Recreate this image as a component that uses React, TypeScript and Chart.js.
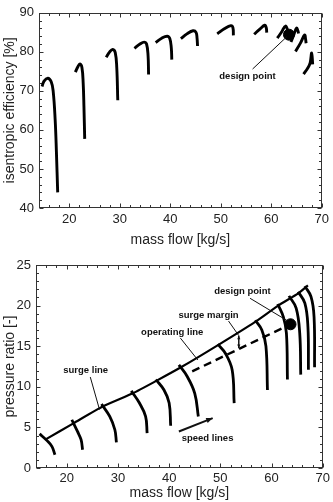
import React, { useEffect, useRef } from "react";
import { Chart, registerables } from "chart.js";
Chart.register(...registerables);

// ---------- data ----------
const massTicks = [20, 30, 40, 50, 60, 70];
const effTicks = [40, 50, 60, 70, 80, 90];
const prTicks = [0, 5, 10, 15, 20, 25];

// isentropic efficiency speed lines: [mass flow, efficiency]
const eff1 = [[14.6, 71.1], [15.0, 72.5], [15.75, 73.25], [16.4, 72.4], [16.8, 70.0], [17.2, 62.6], [17.45, 54.3], [17.7, 44.0]];
const eff2 = [[21.2, 74.8], [21.7, 76.2], [22.1, 76.9], [22.5, 76.0], [22.75, 72.0], [22.9, 66.0], [23.05, 57.7]];
const eff3 = [[27.3, 78.6], [28.0, 80.0], [28.6, 80.6], [29.1, 79.8], [29.4, 76.0], [29.6, 67.6]];
const eff4 = [[32.9, 80.9], [34.0, 82.0], [34.8, 82.5], [35.3, 82.0], [35.6, 79.0], [35.7, 74.2]];
const eff5 = [[37.1, 82.4], [38.3, 83.5], [39.4, 84.0], [39.9, 83.4], [40.2, 81.0], [40.3, 78.0]];
const eff6 = [[42.1, 83.4], [43.3, 84.6], [44.5, 85.4], [45.1, 85.0], [45.3, 83.5], [45.4, 81.5]];
const eff7 = [[49.3, 84.6], [50.7, 85.9], [52.0, 86.7], [52.4, 86.2], [52.5, 84.2]];
const eff8 = [[56.6, 84.5], [57.8, 85.9], [58.7, 86.8], [59.0, 86.2], [59.1, 84.9]];
const eff9 = [[61.2, 83.5], [62.1, 85.2], [62.8, 86.6], [63.3, 85.3], [63.7, 83.5]];
const eff10 = [[63.9, 82.5], [64.5, 84.5], [65.0, 86.1], [65.3, 85.3], [65.4, 84.7]];
const eff11 = [[64.8, 80.1], [65.8, 82.3], [66.6, 84.3], [66.8, 83.2], [66.9, 82.2]];
const eff12 = [[66.4, 74.3], [67.2, 75.8], [67.7, 77.2], [68.0, 79.7], [68.2, 76.8]];
const effCurves = [eff1, eff2, eff3, eff4, eff5, eff6, eff7, eff8, eff9, eff10, eff11, eff12];
const designEff = [[63.5, 84.4]];

// pressure ratio speed lines: [mass flow, pressure ratio]
const pr1 = [[14.7, 4.2], [16.1, 3.4], [17.1, 2.66], [17.7, 1.64]];
const pr2 = [[21.0, 5.94], [22.1, 4.5], [22.8, 3.48], [23.1, 2.25]];
const pr3 = [[26.8, 7.87], [28.4, 6.35], [29.4, 4.71], [29.7, 3.16]];
const pr4 = [[32.6, 9.5], [34.2, 8.0], [35.4, 6.35], [35.7, 4.3]];
const pr5 = [[37.4, 10.9], [39.0, 9.6], [40.0, 8.0], [40.3, 5.2]];
const pr6 = [[41.9, 12.7], [43.5, 11.3], [45.0, 9.2], [45.7, 6.35]];
const pr7 = [[49.5, 15.25], [51.0, 14.1], [52.3, 12.1], [52.7, 8.0]];
const pr8 = [[56.8, 18.2], [58.1, 17.0], [58.9, 15.0], [59.2, 9.6]];
const pr9 = [[61.2, 20.2], [62.3, 18.6], [62.9, 16.6], [63.1, 10.9]];
const pr10 = [[63.4, 21.2], [64.8, 19.7], [65.5, 16.6], [65.7, 11.5]];
const pr11 = [[65.2, 21.7], [66.5, 20.3], [67.1, 17.4], [67.2, 12.1]];
const pr12 = [[66.5, 22.4], [67.7, 21.1], [68.3, 18.6], [68.4, 12.4]];
const prCurves = [pr1, pr2, pr3, pr4, pr5, pr6, pr7, pr8, pr9, pr10, pr11, pr12];
const surgeLine = [[15.8, 3.5], [21.3, 5.5], [27.1, 7.6], [32.9, 9.2], [37.4, 10.7], [42.3, 12.4], [49.7, 15.2], [56.8, 18.0], [61.3, 20.0], [65.2, 21.5], [67.1, 22.5]];
const operatingLine = [[44.5, 11.9], [63.7, 17.7]];
const designPr = [[63.7, 17.7]];

// ---------- helpers ----------
const FONT = "'Liberation Sans', Arial, sans-serif";
const toXY = (arr: number[][]) => arr.map(([x, y]) => ({ x, y }));

const framePlugin = {
  id: "frame",
  beforeDatasetsDraw(chart: any, _a: any, opts: any) {
    const { ctx, chartArea: a, scales } = chart;
    const xs = scales.x, ys = scales.y;
    ctx.save();
    ctx.strokeStyle = "#333";
    ctx.lineWidth = 1;
    const L = Math.round(a.left) + 0.5, R = Math.round(a.right) - 0.5;
    const T = Math.round(a.top) + 0.5, B = Math.round(a.bottom) - 0.5;
    ctx.strokeRect(L, T, R - L, B - T);
    ctx.beginPath();
    const nx = Math.round((opts.xMax - opts.xMin) / opts.xMinor);
    for (let i = 0; i <= nx; i++) {
      const v = opts.xMin + i * opts.xMinor;
      const px = Math.round(xs.getPixelForValue(v)) + 0.5;
      const len = Math.abs(v % opts.xMajor) < 1e-6 ? 4 : 2.5;
      ctx.moveTo(px, B); ctx.lineTo(px, B - len);
      ctx.moveTo(px, T); ctx.lineTo(px, T + len);
    }
    const ny = Math.round((opts.yMax - opts.yMin) / opts.yMinor);
    for (let i = 0; i <= ny; i++) {
      const v = opts.yMin + i * opts.yMinor;
      const py = Math.round(ys.getPixelForValue(v)) + 0.5;
      const len = Math.abs(v % opts.yMajor) < 1e-6 ? 4 : 2.5;
      ctx.moveTo(L, py); ctx.lineTo(L + len, py);
      ctx.moveTo(R, py); ctx.lineTo(R - len, py);
    }
    ctx.stroke();
    ctx.restore();
  },
};

function arrowHead(ctx: CanvasRenderingContext2D, x1: number, y1: number, x2: number, y2: number, size: number) {
  const ang = Math.atan2(y2 - y1, x2 - x1);
  ctx.beginPath();
  ctx.moveTo(x2, y2);
  ctx.lineTo(x2 - size * Math.cos(ang - 0.4), y2 - size * Math.sin(ang - 0.4));
  ctx.lineTo(x2 - size * Math.cos(ang + 0.4), y2 - size * Math.sin(ang + 0.4));
  ctx.closePath();
  ctx.fill();
}

const annotPlugin = {
  id: "annot",
  afterDatasetsDraw(chart: any, _a: any, opts: any) {
    const { ctx, scales } = chart;
    const X = (v: number) => scales.x.getPixelForValue(v);
    const Y = (v: number) => scales.y.getPixelForValue(v);
    ctx.save();
    ctx.fillStyle = "#111";
    ctx.strokeStyle = "#111";
    for (const it of opts.items || []) {
      if (it.type === "text") {
        ctx.font = `bold 9.5px ${FONT}`;
        ctx.textAlign = "center";
        ctx.textBaseline = "middle";
        ctx.fillText(it.text, X(it.x), Y(it.y));
      } else if (it.type === "line" || it.type === "arrow" || it.type === "darrow") {
        const x1 = X(it.x1), y1 = Y(it.y1), x2 = X(it.x2), y2 = Y(it.y2);
        ctx.lineWidth = it.w || 1;
        ctx.beginPath();
        ctx.moveTo(x1, y1);
        ctx.lineTo(x2, y2);
        ctx.stroke();
        if (it.type === "arrow") arrowHead(ctx, x1, y1, x2, y2, it.head || 7);
        if (it.type === "darrow") {
          arrowHead(ctx, x1, y1, x2, y2, it.head || 4);
          arrowHead(ctx, x2, y2, x1, y1, it.head || 4);
        }
      }
    }
    ctx.restore();
  },
};

const lineDs = (arr: number[][], w = 2.8, extra: any = {}) => ({
  data: toXY(arr),
  showLine: true,
  borderColor: "#000",
  backgroundColor: "#000",
  borderWidth: w,
  pointRadius: 0,
  tension: 0.4,
  fill: false,
  ...extra,
});

const xScale = (height: number, pad: number, titlePadBottom: number) => ({
  type: "linear",
  min: 14,
  max: 70,
  afterBuildTicks: (s: any) => { s.ticks = massTicks.map((v) => ({ value: v })); },
  afterFit: (s: any) => { s.height = height; },
  grid: { display: false, drawTicks: false },
  border: { display: false },
  ticks: { color: "#222", font: { family: FONT, size: 13 }, padding: pad, maxRotation: 0 },
  title: { display: true, text: "mass flow [kg/s]", color: "#222", font: { family: FONT, size: 14 }, padding: { top: 0, bottom: titlePadBottom } },
});

const yScale = (min: number, max: number, ticks: number[], width: number, title: string) => ({
  type: "linear",
  min,
  max,
  afterBuildTicks: (s: any) => { s.ticks = ticks.map((v) => ({ value: v })); },
  afterFit: (s: any) => { s.width = width; },
  grid: { display: false, drawTicks: false },
  border: { display: false },
  ticks: { color: "#222", font: { family: FONT, size: 13 }, padding: 5 },
  title: { display: true, text: title, color: "#222", font: { family: FONT, size: 14 }, padding: { top: 2, bottom: 0 } },
});

function useChart(ref: React.RefObject<HTMLCanvasElement>, makeConfig: () => any) {
  useEffect(() => {
    if (!ref.current) return;
    const chart = new Chart(ref.current, makeConfig());
    return () => chart.destroy();
  }, []);
}

export default function App() {
  const topRef = useRef<HTMLCanvasElement>(null);
  const botRef = useRef<HTMLCanvasElement>(null);

  useChart(topRef, () => ({
    type: "scatter",
    data: {
      datasets: [
        ...effCurves.map((c) => lineDs(c, 2.9)),
        { data: toXY(designEff), pointRadius: 5.5, backgroundColor: "#000", borderColor: "#000", showLine: false },
      ],
    },
    options: {
      animation: false,
      responsive: false,
      events: [],
      layout: { padding: { top: 7, right: 8, left: 0, bottom: 0 } },
      plugins: {
        legend: { display: false },
        tooltip: { enabled: false },
        frame: { xMin: 14, xMax: 70, xMinor: 2, xMajor: 10, yMin: 40, yMax: 90, yMinor: 2, yMajor: 10 },
        annot: {
          items: [
            { type: "text", text: "design point", x: 55.3, y: 73.8 },
            { type: "line", x1: 56.3, y1: 75.6, x2: 63.1, y2: 83.9, w: 1 },
          ],
        },
      },
      scales: {
        x: xScale(42, 4, 1),
        y: yScale(40, 90, effTicks, 39, "isentropic efficiency [%]"),
      },
    },
    plugins: [framePlugin, annotPlugin],
  }));

  useChart(botRef, () => ({
    type: "scatter",
    data: {
      datasets: [
        ...prCurves.map((c) => lineDs(c, 2.8)),
        lineDs(surgeLine, 2.2, { tension: 0.2 }),
        lineDs(operatingLine, 2.4, { tension: 0, borderDash: [8, 5] }),
        { data: toXY(designPr), pointRadius: 5.5, backgroundColor: "#000", borderColor: "#000", showLine: false },
      ],
    },
    options: {
      animation: false,
      responsive: false,
      events: [],
      layout: { padding: { top: 15, right: 8, left: 0, bottom: 0 } },
      plugins: {
        legend: { display: false },
        tooltip: { enabled: false },
        frame: { xMin: 14, xMax: 70, xMinor: 2, xMajor: 10, yMin: 0, yMax: 25, yMinor: 1, yMajor: 5 },
        annot: {
          items: [
            { type: "text", text: "design point", x: 54.3, y: 21.7 },
            { type: "line", x1: 55.8, y1: 20.9, x2: 63.05, y2: 18.15, w: 1 },
            { type: "text", text: "surge margin", x: 47.7, y: 18.8 },
            { type: "line", x1: 51.6, y1: 18.1, x2: 53.6, y2: 16.3, w: 1 },
            { type: "darrow", x1: 53.6, y1: 16.3, x2: 53.6, y2: 14.75, w: 1.5, head: 4 },
            { type: "text", text: "operating line", x: 40.6, y: 16.7 },
            { type: "line", x1: 42.2, y1: 16.0, x2: 45.6, y2: 13.3, w: 1 },
            { type: "text", text: "surge line", x: 23.7, y: 12.0 },
            { type: "line", x1: 24.6, y1: 11.2, x2: 26.4, y2: 7.2, w: 1 },
            { type: "text", text: "speed lines", x: 47.5, y: 3.6 },
            { type: "arrow", x1: 41.9, y1: 4.5, x2: 48.5, y2: 6.15, w: 2, head: 7 },
          ],
        },
      },
      scales: {
        x: xScale(34, 3, 0),
        y: yScale(0, 25, prTicks, 36, "pressure ratio [-]"),
      },
    },
    plugins: [framePlugin, annotPlugin],
  }));

  return (
    <div style={{ position: "absolute", left: 0, top: 0, width: 333, height: 502, background: "#fff" }}>
      <canvas ref={topRef} width={333} height={250} style={{ display: "block", width: 333, height: 250 }} />
      <canvas ref={botRef} width={333} height={252} style={{ display: "block", width: 333, height: 252 }} />
    </div>
  );
}
